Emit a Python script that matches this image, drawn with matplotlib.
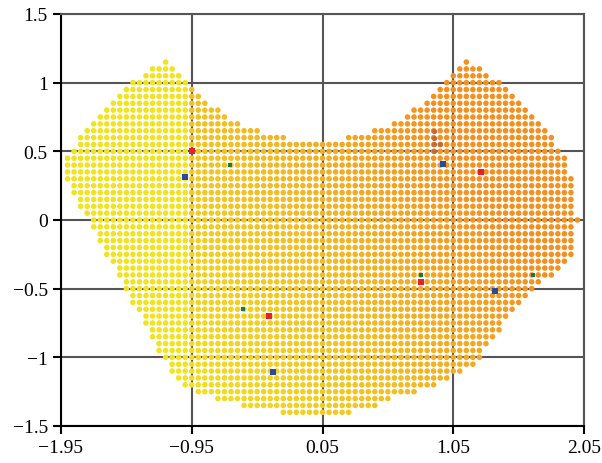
import numpy as np
import matplotlib
matplotlib.use('Agg')
from matplotlib import pyplot as plt
from matplotlib.colors import LinearSegmentedColormap

plt.rcParams['font.family'] = ['Liberation Serif', 'DejaVu Serif']

# grid rows of the region (y), and the left / right end of each row
row_y = [1.15, 1.10, 1.05, 1.00, 0.95, 0.90, 0.85, 0.80, 0.75, 0.70, 0.65, 0.60,
         0.55, 0.50, 0.45, 0.40, 0.35, 0.30, 0.25, 0.20, 0.15, 0.10, 0.05, 0.00,
         -0.05, -0.10, -0.15, -0.20, -0.25, -0.30, -0.35, -0.40, -0.45, -0.50,
         -0.55, -0.60, -0.65, -0.70, -0.75, -0.80, -0.85, -0.90, -0.95, -1.00,
         -1.05, -1.10, -1.15, -1.20, -1.25, -1.30, -1.35, -1.40]
row_left = [-1.15, -1.25, -1.30, -1.40, -1.45, -1.50, -1.55, -1.60, -1.65, -1.70, -1.75, -1.80,
            -1.80, -1.85, -1.90, -1.90, -1.90, -1.90, -1.85, -1.85, -1.80, -1.80, -1.75, -1.70,
            -1.70, -1.65, -1.65, -1.60, -1.60, -1.55, -1.50, -1.50, -1.45, -1.45,
            -1.40, -1.40, -1.35, -1.30, -1.30, -1.25, -1.25, -1.20, -1.20, -1.15,
            -1.10, -1.10, -1.05, -1.00, -0.90, -0.75, -0.55, -0.25]
row_right = [1.15, 1.25, 1.30, 1.40, 1.45, 1.50, 1.55, 1.60, 1.65, 1.70, 1.75, 1.80,
             1.80, 1.85, 1.90, 1.90, 1.90, 1.95, 1.95, 1.95, 1.95, 1.95, 1.95, 2.00,
             1.95, 1.95, 1.95, 1.95, 1.95, 1.90, 1.85, 1.80, 1.70, 1.65,
             1.60, 1.55, 1.50, 1.45, 1.40, 1.40, 1.35, 1.30, 1.25, 1.25,
             1.20, 1.10, 1.00, 0.90, 0.75, 0.55, 0.45, 0.25]
# the gap between the two top lobes (first rows only)
notch_left = [-1.15, -1.10, -1.05, -1.00, -0.95, -0.90, -0.85, -0.75, -0.70, -0.60, -0.45, -0.25]
notch_right = [1.15, 1.10, 1.05, 1.00, 0.95, 0.90, 0.85, 0.75, 0.70, 0.60, 0.45, 0.25]

# darker dots near the right lobe
dark_x = [0.90, 0.90, 0.90, 0.95, 0.90]
dark_y = [0.65, 0.60, 0.55, 0.55, 0.50]

# marked points
red_x = [-0.95, 1.26, 0.80, -0.36]
red_y = [0.50, 0.35, -0.45, -0.70]
blue_x = [-1.00, 0.97, 1.37, -0.33]
blue_y = [0.31, 0.41, -0.52, -1.11]
green_x = [-0.66, 0.80, 1.66, -0.56]
green_y = [0.40, -0.40, -0.40, -0.65]

step = 0.05
xs, ys = [], []
for i, y in enumerate(row_y):
    n = int(round((row_right[i] - row_left[i]) / step)) + 1
    x = row_left[i] + step * np.arange(n)
    if i < len(notch_left):
        x = x[(x <= notch_left[i] + 1e-6) | (x >= notch_right[i] - 1e-6)]
    xs.extend(x)
    ys.extend([y] * len(x))
xs = np.array(xs)
ys = np.array(ys)

# colour shading: yellow left of x = -0.95, then golden to orange
cmap = LinearSegmentedColormap.from_list('yo', ['#F1E31E', '#F4BE20', '#F5901F'])
t = np.clip(0.25 + 0.3 * (xs + 0.95) + 0.2 * (ys + 0.2), 0, 1)
t[xs < -0.97] = 0.0

fig = plt.figure(figsize=(6.02, 4.64), dpi=100)
ax = fig.add_axes([61 / 602, 1 - 427 / 464, 523 / 602, 412 / 464])

ax.scatter(xs, ys, c=t, cmap=cmap, vmin=0, vmax=1, s=16, linewidths=0, zorder=2)
ax.scatter(dark_x, dark_y, color='#C4683C', s=14, linewidths=0, zorder=3)
ax.scatter(red_x, red_y, color='#E8202C', marker='s', s=14, linewidths=0, zorder=4)
ax.scatter(blue_x, blue_y, color='#2B4A9C', marker='s', s=16, linewidths=0, zorder=4)
ax.scatter(green_x, green_y, color='#1C7A3C', marker='s', s=7, linewidths=0, zorder=4)

ax.set_xlim(-1.95, 2.05)
ax.set_ylim(-1.5, 1.5)
ax.set_xticks([-1.95, -0.95, 0.05, 1.05, 2.05])
ax.set_xticklabels(['\u22121.95', '\u22120.95', '0.05', '1.05', '2.05'])
ax.set_yticks([-1.5, -1, -0.5, 0, 0.5, 1, 1.5])
ax.set_yticklabels(['\u22121.5', '\u22121', '\u22120.5', '0', '0.5', '1', '1.5'])
ax.grid(True, color='#555555', linewidth=1.5)
ax.set_axisbelow(True)
ax.tick_params(direction='out', length=6, width=1.5, labelsize=14, color='black')
for side in ['top', 'right']:
    ax.spines[side].set_color('#555555')
    ax.spines[side].set_linewidth(1.5)
for side in ['left', 'bottom']:
    ax.spines[side].set_color('black')
    ax.spines[side].set_linewidth(1.5)

fig.savefig('out.png', dpi=100)
